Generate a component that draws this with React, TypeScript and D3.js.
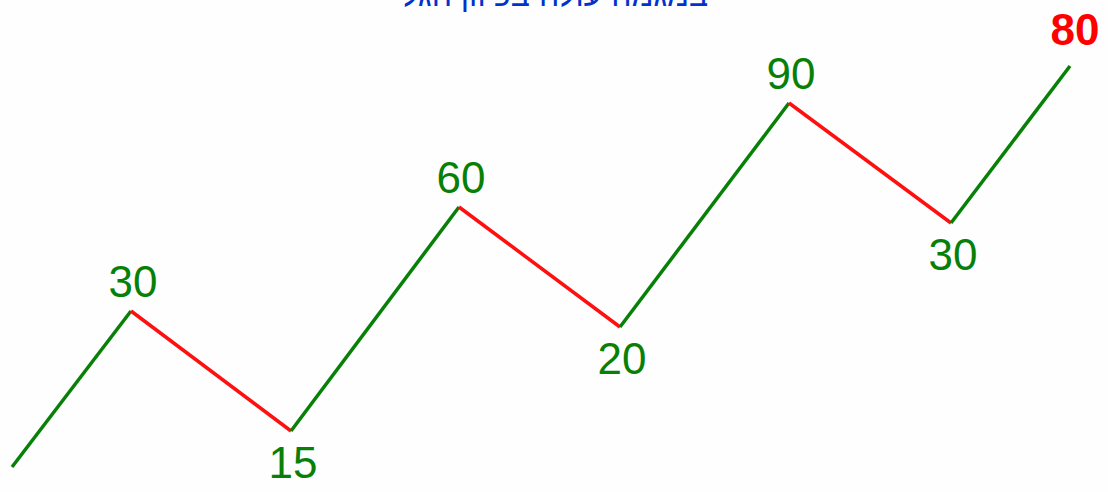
import React from "react";
import * as d3 from "d3";

// Schematic zigzag: horizontal position (time units) and vertical level of each turning point
const pointTimes = [0, 119, 279, 447, 608, 777, 939, 1058];
const pointLevels = [25, 181, 61, 285, 165, 389, 269, 426];
// Labels shown at turning points (index of point, text, whether it is the highlighted target)
const labelPoints = [1, 2, 3, 4, 5, 6, 7];
const labelTexts = ["30", "15", "60", "20", "90", "30", "80"];
const labelTarget = [false, false, false, false, false, false, true];
const titleText = "במגמה עולה בכיוון הגל";

const W = 1108;
const H = 492;

export default function App() {
  const x = d3.scaleLinear().domain([0, 1058]).range([12, 1070]);
  const y = d3.scaleLinear().domain([0, 492]).range([492, 0]);

  const segs = pointTimes.slice(1).map((t, i) => ({
    x1: x(pointTimes[i]),
    y1: y(pointLevels[i]),
    x2: x(t),
    y2: y(pointLevels[i + 1]),
    up: pointLevels[i + 1] > pointLevels[i],
  }));
  const line = d3.line<[number, number]>();

  return (
    <div style={{ position: "absolute", left: 0, top: 0 }}>
      <svg width={W} height={H} style={{ display: "block", background: "#fefefe" }}>
        <text
          x={555}
          y={6}
          textAnchor="middle"
          direction="rtl"
          fontFamily="Liberation Sans, Arial, sans-serif"
          fontSize={32}
          fill="#0033cc"
        >
          {titleText}
        </text>
        {segs.map((s, i) => (
          <path
            key={i}
            d={line([[s.x1, s.y1], [s.x2, s.y2]]) || ""}
            stroke={s.up ? "#078007" : "#ff1010"}
            strokeWidth={3.5}
            fill="none"
            strokeLinecap="butt"
          />
        ))}
        {labelPoints.map((pi, i) => {
          const prev = pointLevels[pi - 1];
          const isPeak = pointLevels[pi] > prev;
          const px = x(pointTimes[pi]);
          const py = y(pointLevels[pi]);
          const target = labelTarget[i];
          return (
            <text
              key={i}
              x={px + (target ? 5 : 2)}
              y={isPeak ? py - (target ? 21 : 14) : py + 47}
              textAnchor="middle"
              fontFamily="Liberation Sans, Arial, sans-serif"
              fontSize={44}
              fontWeight={target ? "bold" : "normal"}
              fill={target ? "#ff0000" : "#078007"}
            >
              {labelTexts[i]}
            </text>
          );
        })}
      </svg>
    </div>
  );
}
